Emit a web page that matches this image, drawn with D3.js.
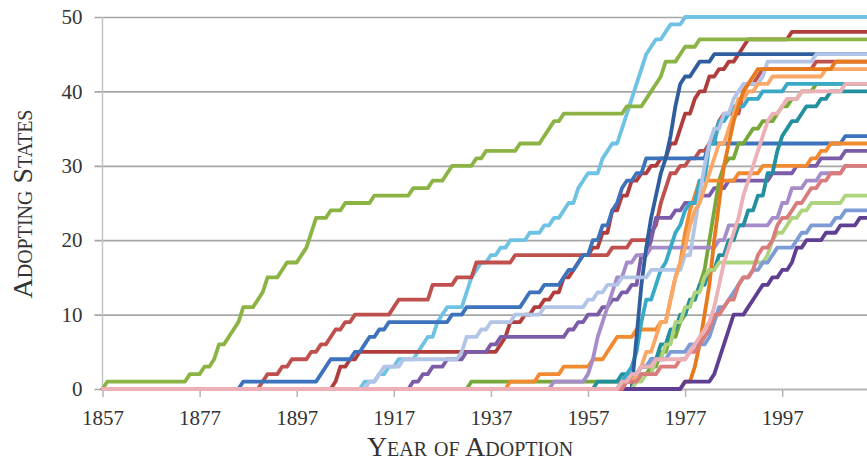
<!DOCTYPE html>
<html>
<head>
<meta charset="utf-8">
<script src="https://cdn.jsdelivr.net/npm/d3@7/dist/d3.min.js"></script>
<style>
  html, body { margin: 0; padding: 0; background: #ffffff; }
  svg { display: block; }
  .tick text { font-family: "Liberation Serif", "DejaVu Serif", serif; fill: #333333; }
  .axis-title { font-family: "Liberation Serif", "DejaVu Serif", serif; font-variant: small-caps; fill: #333333; }
</style>
</head>
<body>
<svg id="chart" width="867" height="464"></svg>
<script>
// Year span and tick labels
const firstYear = 1857;
const lastYear = 2015;
const yearTicks = [1857, 1877, 1897, 1917, 1937, 1957, 1977, 1997];
const stateTicks = [0, 10, 20, 30, 40, 50];

// Cumulative number of adopting states, as [year, count] at each change
const greenEarly = [[1857,0],[1858,1],[1874,1],[1875,2],[1877,2],[1878,3],[1880,4],[1881,6],[1883,7],[1884,8],[1885,9],[1886,11],[1888,11],[1889,12],[1890,13],[1891,15],[1893,15],[1894,16],[1895,17],[1897,17],[1898,18],[1899,19],[1900,21],[1901,23],[1903,23],[1904,24],[1906,24],[1907,25],[1912,25],[1913,26],[1920,26],[1921,27],[1924,27],[1925,28],[1927,28],[1928,29],[1929,30],[1933,30],[1934,31],[1936,32],[1942,32],[1943,33],[1947,33],[1948,34],[1949,35],[1950,36],[1952,37],[1964,37],[1965,38],[1968,38],[1969,39],[1970,40],[1971,41],[1972,42],[1973,44],[1975,44],[1976,45],[1977,46],[1979,46],[1980,47]];
const skyBlue = [[1910,0],[1911,1],[1912,1],[1914,2],[1916,3],[1918,4],[1920,4],[1922,5],[1923,6],[1924,7],[1926,9],[1927,10],[1928,11],[1930,11],[1932,13],[1933,15],[1934,16],[1935,17],[1937,18],[1939,19],[1941,20],[1944,20],[1945,21],[1946,21],[1948,22],[1949,22],[1950,23],[1952,24],[1953,25],[1955,27],[1956,28],[1957,29],[1960,31],[1961,32],[1962,33],[1964,35],[1965,37],[1966,39],[1967,41],[1968,43],[1969,45],[1970,46],[1971,47],[1973,48],[1974,49],[1976,49],[1977,50]];
const redFirst = [[1889,0],[1890,1],[1891,2],[1893,2],[1894,3],[1896,4],[1898,4],[1900,5],[1902,6],[1904,7],[1905,8],[1907,9],[1909,10],[1916,10],[1917,11],[1918,12],[1923,12],[1925,14],[1930,15],[1932,15],[1934,17],[1940,17],[1942,18],[1960,18],[1962,19],[1964,19],[1966,20],[1970,21],[1971,22],[1972,25],[1973,27],[1974,29],[1976,30],[1978,31],[1980,32],[1982,33],[1983,34],[1984,36],[1985,37],[1988,37],[1989,40],[1990,41],[1992,42],[1993,43],[2003,43],[2004,44]];
const redSecond = [[1904,0],[1905,1],[1906,3],[1908,4],[1910,5],[1938,5],[1939,6],[1940,7],[1941,9],[1943,9],[1944,10],[1946,11],[1948,12],[1950,13],[1952,15],[1954,16],[1955,17],[1956,18],[1958,19],[1960,21],[1962,24],[1964,26],[1966,28],[1968,29],[1970,30],[1972,31],[1974,33],[1976,35],[1977,37],[1979,39],[1980,40],[1982,42],[1984,43],[1986,44],[1988,45],[1989,46],[1990,47],[1998,47],[1999,48]];
const blueFirst = [[1885,0],[1886,1],[1901,1],[1902,2],[1903,3],[1904,4],[1909,5],[1911,6],[1912,7],[1914,8],[1916,9],[1928,9],[1929,10],[1931,10],[1932,11],[1943,11],[1944,12],[1945,13],[1948,14],[1951,14],[1952,15],[1953,16],[1955,17],[1956,18],[1958,20],[1960,22],[1962,24],[1963,25],[1964,27],[1965,28],[1967,29],[1969,31],[1981,31],[1982,33],[2009,33],[2010,34]];
const blueSteep = [[1966,0],[1967,7],[1968,14],[1969,19],[1970,23],[1971,26],[1972,29],[1973,31],[1974,34],[1975,38],[1976,41],[1977,42],[1979,43],[1980,44],[1982,44],[1983,45]];
const lavender = [[1911,0],[1912,1],[1914,2],[1915,3],[1919,4],[1929,4],[1931,5],[1932,7],[1935,8],[1937,9],[1940,9],[1942,10],[1947,10],[1948,11],[1955,11],[1957,12],[1959,13],[1961,14],[1964,15],[1967,15],[1970,16],[1975,16],[1977,18],[1979,22],[1980,26],[1981,30],[1982,33],[1983,35],[1985,37],[1987,39],[1988,40],[1989,41],[1993,42],[1994,44],[2003,44],[2004,45]];
const purple = [[1920,0],[1921,1],[1923,2],[1925,3],[1928,4],[1931,4],[1932,5],[1936,5],[1937,6],[1939,7],[1952,7],[1953,8],[1955,9],[1957,10],[1960,11],[1962,12],[1964,13],[1966,14],[1968,18],[1970,20],[1971,23],[1973,23],[1975,24],[1977,25],[1980,26],[1983,27],[1986,28],[1990,28],[1995,29],[2000,30],[2005,31],[2010,32]];
const greenDark = [[1932,0],[1933,1],[1967,1],[1968,2],[1970,3],[1972,5],[1974,7],[1976,9],[1977,10],[1978,12],[1980,14],[1981,16],[1982,20],[1983,24],[1984,28],[1985,30],[1986,31],[1988,33],[1990,34],[1991,35],[1993,36],[1996,37],[1997,38],[1999,39],[2001,40],[2003,40],[2004,41]];
const orangeLow = [[1940,0],[1941,1],[1946,1],[1947,2],[1951,2],[1952,3],[1957,3],[1958,4],[1960,4],[1961,5],[1962,6],[1963,7],[1965,7],[1967,8],[1970,8],[1972,9],[1974,12],[1975,15],[1976,17],[1977,21],[1978,24],[1979,26],[1980,28],[1987,28],[1988,29],[1993,30],[2002,30],[2003,31],[2005,32],[2007,33]];
const purpleLight = [[1949,0],[1950,1],[1956,1],[1957,2],[1958,4],[1959,7],[1960,9],[1961,11],[1962,13],[1963,15],[1965,17],[1967,18],[1970,19],[1983,19],[1984,20],[1986,22],[1993,22],[1995,23],[1997,25],[1999,27],[2002,28],[2005,29],[2010,30]];
const teal = [[1963,0],[1964,1],[1965,2],[1966,3],[1967,5],[1968,9],[1969,12],[1970,12],[1971,14],[1972,16],[1973,17],[1974,19],[1975,21],[1976,22],[1977,24],[1978,25],[1980,28],[1982,33],[1984,36],[1986,37],[1987,38],[1989,38],[1990,39],[1992,39],[1993,40],[1996,40],[1998,41]];
const tealDark = [[1958,0],[1959,1],[1963,1],[1964,2],[1968,3],[1970,4],[1972,6],[1974,8],[1976,10],[1978,12],[1980,14],[1982,16],[1984,18],[1986,20],[1988,22],[1990,24],[1992,26],[1994,29],[1996,32],[1997,34],[1998,35],[1999,36],[2001,37],[2002,38],[2005,39],[2007,40]];
const peach = [[1964,0],[1965,1],[1967,2],[1968,3],[1969,5],[1971,7],[1972,9],[1974,12],[1975,15],[1976,17],[1977,19],[1978,22],[1979,24],[1980,25],[1981,27],[1982,29],[1983,31],[1984,33],[1986,35],[1987,37],[1988,39],[1990,40],[1992,41],[1995,42],[2006,43]];
const orangeDeep = [[1976,0],[1977,1],[1979,3],[1980,6],[1981,10],[1982,14],[1983,20],[1984,25],[1985,30],[1986,33],[1987,36],[1988,38],[1989,40],[1990,41],[1991,42],[1992,43],[2007,43],[2008,44]];
const greenLight = [[1966,0],[1967,1],[1969,2],[1971,4],[1973,6],[1975,9],[1977,11],[1979,13],[1981,15],[1982,16],[1984,17],[1993,17],[1994,18],[1995,20],[1996,21],[1998,22],[1999,23],[2001,24],[2003,25],[2008,25],[2010,26]];
const periwinkle = [[1963,0],[1964,1],[1966,2],[1968,3],[1970,4],[1974,5],[1977,5],[1978,6],[1980,6],[1982,7],[1983,9],[1984,11],[1986,12],[1987,13],[1988,14],[1989,15],[1991,16],[1993,17],[1995,18],[1996,19],[1998,19],[2000,20],[2001,21],[2003,22],[2006,22],[2008,23],[2010,24]];
const purpleDeep = [[1976,0],[1977,1],[1982,1],[1983,2],[1984,4],[1985,6],[1986,8],[1987,10],[1989,10],[1990,11],[1991,12],[1992,13],[1993,14],[1995,15],[1997,16],[1999,17],[2000,19],[2002,20],[2006,21],[2009,22],[2013,23]];
const salmon = [[1963,0],[1965,1],[1968,2],[1972,3],[1976,4],[1978,5],[1980,6],[1981,7],[1982,8],[1983,10],[1985,11],[1986,12],[1988,14],[1989,15],[1991,16],[1992,18],[1993,19],[1995,20],[1996,22],[1997,23],[1999,24],[2000,25],[2002,26],[2003,27],[2005,28],[2007,29],[2010,30]];
const pink = [[1963,0],[1964,1],[1966,2],[1968,3],[1971,4],[1977,4],[1978,5],[1979,6],[1980,7],[1981,8],[1982,9],[1983,11],[1984,14],[1985,17],[1986,19],[1987,21],[1988,23],[1989,26],[1990,28],[1991,30],[1992,32],[1993,34],[1994,36],[1995,37],[1997,38],[1998,39],[2001,40],[2010,41]];

// Drawing order: later entries sit on top
const seriesList = [
  { steps: skyBlue,     color: "#6fc2e4" },
  { steps: redFirst,    color: "#c0504d" },
  { steps: redSecond,   color: "#b13c3c" },
  { steps: greenEarly,  color: "#8cb444" },
  { steps: blueFirst,   color: "#3d73bc" },
  { steps: purple,      color: "#7b5ca8" },
  { steps: greenDark,   color: "#78a83a" },
  { steps: orangeLow,   color: "#f28b30" },
  { steps: purpleLight, color: "#a68dc9" },
  { steps: tealDark,    color: "#23909f" },
  { steps: teal,        color: "#38a9c6" },
  { steps: blueSteep,   color: "#2f5e9f" },
  { steps: lavender,    color: "#b2c5e7" },
  { steps: peach,       color: "#f9a866" },
  { steps: orangeDeep,  color: "#e77a1e" },
  { steps: greenLight,  color: "#afd47e" },
  { steps: periwinkle,  color: "#7d9cd6" },
  { steps: purpleDeep,  color: "#5e3f91" },
  { steps: salmon,      color: "#da7c7c" },
  { steps: pink,        color: "#ecb0b6" }
];

// One value per year: the running count carried forward from the last change
function yearly(steps) {
  const out = [];
  let i = 0, v = 0;
  for (let yr = firstYear; yr <= lastYear; yr++) {
    while (i < steps.length && steps[i][0] <= yr) { v = steps[i][1]; i++; }
    out.push({ year: yr, value: v });
  }
  return out;
}

(function draw() {
  const svg = d3.select("#chart");
  const W = 867;
  const plotLeft = 102.5, plotBottom = 389, plotTop = 17;
  const x = d3.scaleLinear().domain([1857, 2017]).range([plotLeft, plotLeft + 160 * 4.855]);
  const y = d3.scaleLinear().domain([0, 50]).range([plotBottom, plotTop]);

  // Horizontal gridlines, reaching a little past the value axis
  svg.append("g")
    .attr("transform", `translate(${plotLeft - 8},0)`)
    .call(d3.axisLeft(y).tickValues(stateTicks).tickSize(-(W - plotLeft + 8)).tickFormat(""))
    .call(g => g.select(".domain").remove())
    .call(g => g.selectAll(".tick line").attr("stroke", "#a6a6a6").attr("stroke-width", 1.7));

  // Value labels
  svg.append("g")
    .attr("transform", `translate(${plotLeft - 8},0)`)
    .call(d3.axisLeft(y).tickValues(stateTicks).tickSize(0).tickPadding(12))
    .call(g => g.select(".domain").remove())
    .call(g => g.selectAll(".tick text").attr("font-size", 21));

  // Vertical axis line
  svg.append("line")
    .attr("x1", plotLeft).attr("x2", plotLeft)
    .attr("y1", y(50)).attr("y2", y(0))
    .attr("stroke", "#c4c4c4").attr("stroke-width", 1.5);

  // Year axis
  svg.append("g")
    .attr("transform", `translate(0,${plotBottom})`)
    .call(d3.axisBottom(x).tickValues(yearTicks).tickFormat(d3.format("d")).tickSize(8).tickSizeOuter(0).tickPadding(13))
    .call(g => g.select(".domain").attr("stroke", "#b5b5b5").attr("stroke-width", 1.5))
    .call(g => g.selectAll(".tick line").attr("stroke", "#b5b5b5").attr("stroke-width", 1.5))
    .call(g => g.selectAll(".tick text").attr("font-size", 21));

  // Adoption curves
  const line = d3.line().x(d => x(d.year)).y(d => y(d.value));
  svg.append("g")
    .selectAll("path")
    .data(seriesList)
    .join("path")
    .attr("d", s => line(yearly(s.steps)))
    .attr("fill", "none")
    .attr("stroke", s => s.color)
    .attr("stroke-width", 3.8)
    .attr("stroke-linejoin", "round")
    .attr("stroke-linecap", "round");

  // Axis titles
  svg.append("text")
    .attr("class", "axis-title")
    .attr("x", 470).attr("y", 456)
    .attr("text-anchor", "middle")
    .attr("font-size", 28)
    .text("Year of Adoption");

  svg.append("text")
    .attr("class", "axis-title")
    .attr("transform", "translate(32,204) rotate(-90)")
    .attr("text-anchor", "middle")
    .attr("font-size", 28)
    .text("Adopting States");
})();
</script>
</body>
</html>
